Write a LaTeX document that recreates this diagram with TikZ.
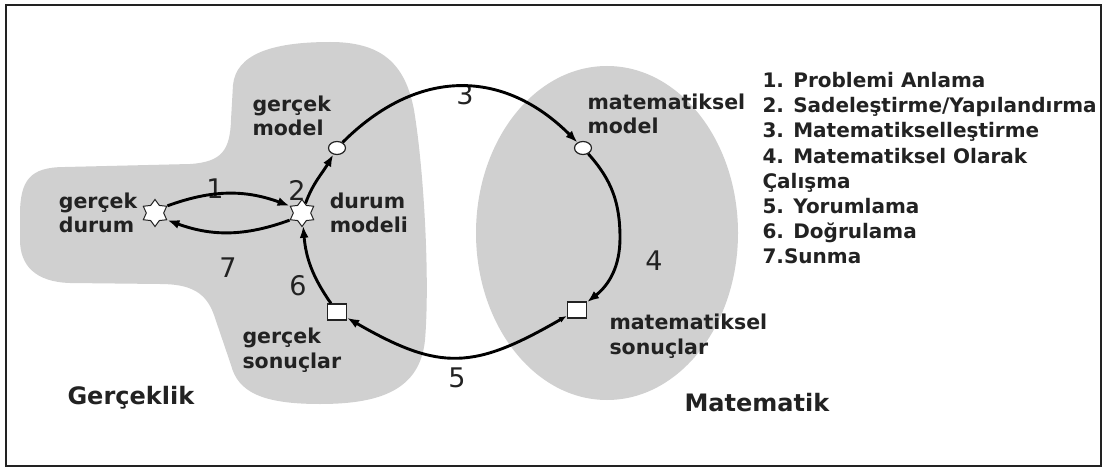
\documentclass[tikz,border=0pt]{standalone}
\usepackage{fontspec}
\setmainfont{DejaVu Sans}
\usetikzlibrary{arrows.meta, shapes.geometric, positioning}
\definecolor{blobgray}{RGB}{208,208,208}
\definecolor{inkgray}{RGB}{34,34,34}

\begin{document}
\begin{tikzpicture}[x=1pt, y=1pt,
    sit/.style={star, star points=6, star point ratio=1.55, minimum size=27pt,
      inner sep=0pt, draw=inkgray, fill=white, line width=1pt},
    ring/.style={ellipse, minimum width=17pt, minimum height=13pt, inner sep=0pt,
      draw=inkgray, fill=white, line width=1.2pt},
    box/.style={rectangle, minimum width=19pt, minimum height=16pt, inner sep=0pt,
      draw=inkgray, fill=white, line width=1.2pt},
    lbl/.style={anchor=west, align=left, text=inkgray,
      font=\fontsize{20.5}{24.5}\selectfont\bfseries},
    title/.style={anchor=west, text=inkgray, font=\fontsize{24}{24}\selectfont\bfseries},
    num/.style={text=inkgray, font=\fontsize{27}{27}\selectfont},
    arr/.style={line width=2.9pt, -{Latex[length=12pt, width=9pt]}},
  ]
    \useasboundingbox (0,0) rectangle (1105,-468);
    \draw[inkgray, line width=1.5pt] (6,-5) rectangle (1101,-466);

    \fill[blobgray] (20,-215) .. controls (20,-180) and (30,-167) .. (65,-167)
      -- (190,-164) .. controls (222,-162) and (230,-150) .. (231,-120)
      -- (233,-85) .. controls (236,-55) and (270,-42) .. (330,-42)
      .. controls (380,-42) and (405,-62) .. (414,-110)
      .. controls (424,-170) and (430,-280) .. (425,-340)
      .. controls (420,-390) and (380,-404) .. (320,-404)
      .. controls (262,-404) and (238,-392) .. (231,-365)
      -- (214,-315) .. controls (206,-292) and (190,-284) .. (160,-284)
      -- (70,-283) .. controls (35,-282) and (20,-265) .. (20,-240) -- cycle;
    \fill[blobgray] (607,-233) ellipse [x radius=131, y radius=167];

    \node[sit] (gd) at (155,-213) {};
    \node[sit] (dm) at (302,-213) {};
    \node[ring] (gm) at (337,-148) {};
    \node[ring] (mm) at (583,-148) {};
    \node[box] (ms) at (577,-310) {};
    \node[box] (gs) at (337,-312) {};
    \coordinate (rgt) at (620,-238);

    \node[lbl, left=5pt of gd] (gdl) {gerçek\\durum};
    \node[lbl, right=15pt of dm] (dml) {durum\\modeli};
    \node[lbl] (gml) at (249,-116) {gerçek\\model};
    \node[lbl] (mml) at (584,-114) {matematiksel\\model};
    \node[lbl] (msl) at (606,-336) {matematiksel\\sonuçlar};
    \node[lbl] (gsl) at (239,-350) {gerçek\\sonuçlar};
    \node[title] (real) at (64,-398) {Gerçeklik};
    \node[title] (math) at (681,-403) {Matematik};

    \node[lbl, anchor=north west, font=\fontsize{20}{25.1}\selectfont\bfseries] (steps) at (759,-69)
      {1. Problemi Anlama\\2. Sadeleştirme/Yapılandırma\\3. Matematikselleştirme\\
       4. Matematiksel Olarak\\Çalışma\\5. Yorumlama\\6. Doğrulama\\7.Sunma};

    \node[num] (n1) at (215,-189) {1};
    \node[num] (n2) at (297,-190) {2};
    \node[num] (n3) at (465,-95) {3};
    \node[num] (n4) at (654,-261) {4};
    \node[num] (n5) at (457,-378) {5};
    \node[num] (n6) at (298,-286) {6};
    \node[num] (n7) at (228,-268) {7};

    \draw[arr] (gd.30) to[out=20, in=160] (dm.150);
    \draw[arr] (dm.210) to[out=-160, in=-20] (gd.330);
    \draw[arr] (dm) to[out=70, in=240] (gm);
    \draw[arr] (gm) to[out=45, in=135, looseness=1.15] (mm);
    \draw[arr] (mm) to[out=-48, in=90] (rgt) to[out=-90, in=38] (ms);
    \draw[line width=2.9pt, {Latex[length=8pt, width=6pt]}-{Latex[length=12pt, width=9pt]}]
      (ms) to[out=-150, in=-30, looseness=1.25] (gs);
    \draw[arr] (gs) to[out=125, in=-85] (dm);
\end{tikzpicture}
\end{document}
